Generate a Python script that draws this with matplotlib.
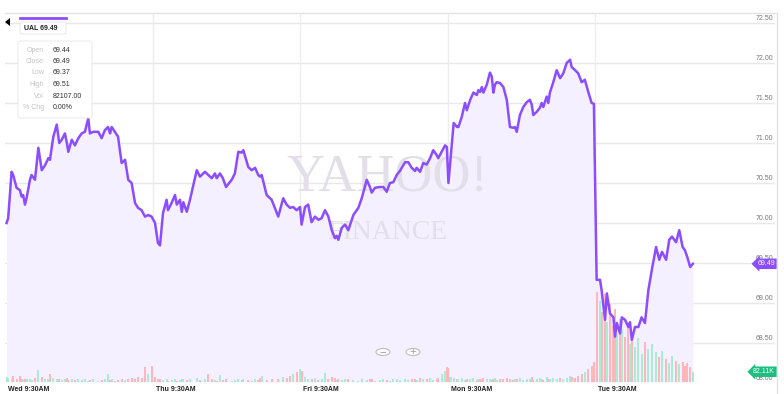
import matplotlib.pyplot as plt
from matplotlib.patches import FancyBboxPatch, Circle, Polygon
from matplotlib.lines import Line2D

plt.rcParams['font.family'] = ['Liberation Sans', 'DejaVu Sans']

# trading hours since Wed 9:30AM (6.5 h sessions back to back)
hours = [0.05, 0.12, 0.27, 0.34, 0.49, 0.64, 0.71, 0.78, 0.86, 0.93,
         1.08, 1.15, 1.30, 1.45, 1.60, 1.74, 1.89, 1.96, 2.11, 2.26,
         2.37, 2.48, 2.62, 2.70, 2.77, 2.92, 3.06, 3.21, 3.36, 3.50,
         3.65, 3.72, 3.87, 4.09, 4.24, 4.38, 4.52, 4.61, 4.68, 4.82,
         4.96, 5.12, 5.27, 5.41, 5.56, 5.71, 5.84, 6.00, 6.15, 6.29, 6.44,
         # Thu
         6.59, 6.72, 6.81, 6.94, 7.10, 7.16, 7.32, 7.47, 7.55, 7.69,
         7.77, 7.84, 7.99, 8.13, 8.43, 8.57, 8.79, 8.94, 9.09, 9.23,
         9.31, 9.45, 9.58, 9.72, 9.97, 10.11, 10.26, 10.41, 10.48, 10.70,
         10.85, 11.00, 11.14, 11.22, 11.29, 11.51, 11.73, 12.02, 12.24, 12.39,
         12.54, 12.68, 12.83, 12.98,
         # Fri
         13.05, 13.20, 13.34, 13.49, 13.64, 13.79, 13.93, 14.08, 14.23, 14.38,
         14.52, 14.60, 14.67, 14.82, 14.96, 15.11, 15.33, 15.55, 15.70, 15.92,
         16.06, 16.14, 16.28, 16.50, 16.65, 16.80, 16.94, 17.09, 17.24, 17.38,
         17.61, 17.75, 17.90, 18.05, 18.12, 18.27, 18.41, 18.56, 18.71, 18.85,
         19.00, 19.07, 19.22, 19.37, 19.45,
         # Mon
         19.52, 19.61, 19.75, 19.90, 19.96, 20.11, 20.25, 20.33, 20.48, 20.62,
         20.77, 20.84, 20.92, 20.99, 21.06, 21.21, 21.35, 21.43, 21.50, 21.57,
         21.65, 21.79, 21.94, 22.09, 22.23, 22.38, 22.45, 22.53, 22.67, 22.82,
         22.97, 23.11, 23.19, 23.26, 23.41, 23.55, 23.63, 23.70, 23.85, 23.92,
         23.99, 24.14, 24.29, 24.44, 24.58, 24.73, 24.88, 24.95, 25.10, 25.24,
         25.39, 25.53, 25.68, 25.83, 25.93,
         # Tue
         26.05, 26.20, 26.27, 26.42, 26.50, 26.64, 26.79, 26.86, 26.94, 27.08,
         27.16, 27.30, 27.45, 27.52, 27.60, 27.74, 27.89, 28.03, 28.18, 28.33,
         28.48, 28.67, 28.81, 28.93, 29.11, 29.25, 29.37, 29.55, 29.69, 29.84,
         29.94, 30.05, 30.17, 30.29]

price = [70.00, 70.06, 70.64, 70.60, 70.44, 70.41, 70.33, 70.35, 70.23, 70.31,
         70.54, 70.60, 70.54, 70.94, 70.66, 70.72, 70.81, 70.79, 71.08, 71.23,
         71.00, 71.04, 71.12, 71.01, 70.89, 71.04, 70.97, 71.06, 71.12, 71.14,
         71.31, 71.12, 71.14, 71.14, 71.06, 71.16, 71.20, 71.12, 71.20, 71.14,
         71.08, 70.75, 70.79, 70.54, 70.50, 70.25, 70.19, 70.16, 70.08, 70.10, 70.08,
         70.00, 69.75, 69.72, 70.12, 70.29, 70.16, 70.25, 70.35, 70.23, 70.29,
         70.14, 70.26, 70.14, 70.29, 70.66, 70.58, 70.64, 70.60, 70.56, 70.62,
         70.56, 70.62, 70.56, 70.45, 70.54, 70.62, 70.89, 70.88, 70.91, 70.70,
         70.66, 70.69, 70.60, 70.58, 70.60, 70.35, 70.29, 70.08, 70.31, 70.23,
         70.19, 70.20, 70.16, 70.20,
         69.98, 70.20, 70.23, 70.01, 70.08, 70.04, 70.06, 70.16, 70.08, 69.91,
         69.81, 69.84, 69.79, 69.94, 69.98, 69.91, 70.10, 70.19, 70.31, 70.54,
         70.45, 70.38, 70.44, 70.45, 70.45, 70.39, 70.50, 70.51, 70.60, 70.65,
         70.76, 70.76, 70.69, 70.65, 70.69, 70.64, 70.75, 70.73, 70.81, 70.91,
         70.85, 70.81, 70.89, 70.97, 70.95,
         70.50, 70.79, 71.25, 71.20, 71.20, 71.33, 71.50, 71.41, 71.54, 71.63,
         71.60, 71.66, 71.64, 71.70, 71.63, 71.73, 71.88, 71.83, 71.63, 71.73,
         71.76, 71.75, 71.70, 71.54, 71.20, 71.19, 71.20, 71.14, 71.35, 71.45,
         71.51, 71.54, 71.48, 71.35, 71.39, 71.44, 71.50, 71.45, 71.58, 71.50,
         71.63, 71.76, 71.91, 71.81, 71.87, 72.00, 72.04, 71.95, 71.91, 71.87,
         71.76, 71.79, 71.64, 71.50, 71.49,
         69.29, 69.29, 69.16, 68.79, 69.12, 68.87, 68.82, 68.58, 68.75, 68.62,
         68.82, 68.79, 68.70, 68.76, 68.54, 68.70, 68.70, 68.82, 68.75, 69.16,
         69.41, 69.70, 69.54, 69.64, 69.54, 69.79, 69.83, 69.76, 69.91, 69.70,
         69.66, 69.57, 69.45, 69.49]

# volume, thousands of shares
volume = [40, 30, 25, 45, 20, 50, 20, 15, 25, 20, 20, 15, 30, 95, 40, 25, 20, 60, 30, 20,
          25, 15, 20, 30, 15, 20, 15, 25, 15, 20, 10, 15, 20, 10, 15, 20, 65, 15, 20, 10,
          15, 20, 15, 25, 30, 20, 40, 35, 120, 60, 130,
          40, 25, 20, 15, 20, 10, 15, 20, 10, 15, 20, 25, 15, 20, 30, 15, 20, 60, 20, 15,
          10, 55, 15, 20, 10, 15, 20, 15, 25, 15, 10, 20, 15, 30, 45, 15, 20, 25, 40, 30,
          45, 60, 80, 100,
          90, 40, 25, 20, 30, 15, 20, 70, 25, 40, 30, 15, 20, 15, 25, 20, 15, 10, 20, 15,
          25, 20, 10, 15, 20, 15, 10, 20, 25, 15, 20, 15, 25, 20, 15, 30, 20, 25, 30, 15,
          20, 35, 60, 90, 120,
          110, 40, 30, 25, 20, 30, 15, 25, 20, 30, 15, 20, 25, 15, 30, 20, 25, 15, 20, 30,
          15, 25, 20, 35, 20, 15, 25, 20, 30, 15, 20, 25, 40, 15, 20, 30, 25, 15, 40, 20,
          25, 30, 20, 35, 25, 30, 45, 40, 35, 50, 60, 80, 100, 130, 160,
          720, 650, 560, 700, 480, 620, 450, 580, 380, 500, 420, 360, 460, 300, 400, 280,
          350, 220, 320, 260, 300, 240, 200, 250, 180, 150, 210, 170, 140, 160, 130, 150,
          120, 82.11]

session_starts = [0, 6.5, 13, 19.5, 26]
session_labels = ['Wed 9:30AM', 'Thu 9:30AM', 'Fri 9:30AM', 'Mon 9:30AM', 'Tue 9:30AM']
price_ticks = [68.0, 68.5, 69.0, 69.5, 70.0, 70.5, 71.0, 71.5, 72.0, 72.5]

tip_names = ['Open', 'Close', 'Low', 'High', 'Vol', '% Chg']
tip_values = ['69.44', '69.49', '69.37', '69.51', '82107.00', '0.00%']

W, H = 784, 394
fig = plt.figure(figsize=(W / 100, H / 100), dpi=100)
fig.patch.set_facecolor('white')

def fx(px):
    return px / W

def fy(py):
    return 1 - py / H

ax = fig.add_axes([fx(5), fy(382), fx(770), 369 / H])
ax.set_xlim(-0.02, 33.91)
ax.set_ylim(68.0125, 72.625)
ax.axis('off')

for t in price_ticks:
    ax.axhline(t, color='#e8e8e8', lw=1, zorder=0)
    ax.annotate('%.2f' % t, (1, t), xycoords=('axes fraction', 'data'),
                xytext=(-1, 0.5), textcoords='offset points', ha='right', va='bottom',
                fontsize=5, color='#777777')
for s in session_starts[1:]:
    ax.axvline(s, color='#ededed', lw=1, zorder=0)
for s, lbl in zip(session_starts, session_labels):
    ax.annotate(lbl, (s, 0), xycoords=('data', 'axes fraction'), xytext=(2, -3),
                textcoords='offset points', ha='left', va='top', fontsize=5,
                fontweight='bold', color='#222222', annotation_clip=False)

ax.fill_between(hours, price, 68.0125, color='#f4f0ff', lw=0, zorder=1)

# watermark
ax.text(0.497, 0.555, 'YAHOO!', transform=ax.transAxes, ha='center', va='center',
        fontsize=38, color='#e2dfe8', family='Liberation Serif', zorder=1.5)
ax.text(0.497, 0.405, 'FINANCE', transform=ax.transAxes, ha='center', va='center',
        fontsize=20, color='#e2dfe8', family='Liberation Serif', zorder=1.5)

# volume
axv = ax.twinx()
axv.set_ylim(0, 2950)
axv.axis('off')
cols = []
for i in range(len(price)):
    if i == 0 or price[i] >= price[i - 1]:
        cols.append('#a9ecd4')
    else:
        cols.append('#ffb6ba')
axv.bar(hours, volume, width=0.09, color=cols, lw=0, zorder=2)

# price line
axl = ax.twinx()
axl.set_ylim(ax.get_ylim())
axl.axis('off')
axl.plot(hours, price, color='#8b4dff', lw=1.8, zorder=3, solid_joinstyle='round')

axl.annotate('%.2f' % price[-1], (1, price[-1]), xycoords=('axes fraction', 'data'),
             ha='right', va='center', fontsize=5, color='white', zorder=10,
             bbox=dict(boxstyle='larrow,pad=0.25', fc='#8b4dff', ec='none'))
axv.annotate('%.2fK' % volume[-1], (1, volume[-1]), xycoords=('axes fraction', 'data'),
             ha='right', va='center', fontsize=5, color='white', zorder=10,
             bbox=dict(boxstyle='larrow,pad=0.25', fc='#1bbf7f', ec='none'))

# frame lines
fig.add_artist(Line2D([fx(5), fx(776)], [fy(13), fy(13)], color='#e3e3e3', lw=1))
fig.add_artist(Line2D([fx(777), fx(777)], [fy(13), fy(394)], color='#e3e3e3', lw=1))

# zoom buttons
for cx, sign in [(383, '\u2212'), (413, '+')]:
    fig.add_artist(Circle((fx(cx), fy(352)), 7 / W, transform=fig.transFigure,
                          fc='white', ec='#bdbdbd', lw=0.8, zorder=5))
    fig.text(fx(cx), fy(352.5), sign, ha='center', va='center', fontsize=8,
             color='#9a9a9a', zorder=6)

# symbol label
fig.add_artist(Line2D([fx(20), fx(66)], [fy(18), fy(18)], color='#8b4dff', lw=2))
fig.add_artist(Polygon([[fx(5), fy(22)], [fx(10), fy(18)], [fx(10), fy(26)]],
                       closed=True, fc='black', ec='none', transform=fig.transFigure))
fig.add_artist(FancyBboxPatch((fx(20), fy(34)), 46 / W, 12 / H,
                              boxstyle='round,pad=0,rounding_size=0.003',
                              fc='white', ec='#e6e6e6', lw=0.6, transform=fig.transFigure, zorder=5))
fig.text(fx(24), fy(28), 'UAL 69.49', fontsize=5, fontweight='bold', color='#222222',
         va='center', zorder=6)

# tooltip
fig.add_artist(FancyBboxPatch((fx(18), fy(118)), 74 / W, 77 / H,
                              boxstyle='round,pad=0,rounding_size=0.004',
                              fc='white', ec='#e6e6e6', lw=0.6, transform=fig.transFigure, zorder=5))
for k, (n, v) in enumerate(zip(tip_names, tip_values)):
    yy = fy(50 + k * 11.5)
    fig.text(fx(44), yy, n, ha='right', va='center', fontsize=5, color='#c4c4c4', zorder=6)
    fig.text(fx(53), yy, v, ha='left', va='center', fontsize=5, color='#333333', zorder=6)

fig.savefig('out.png', dpi=100)
